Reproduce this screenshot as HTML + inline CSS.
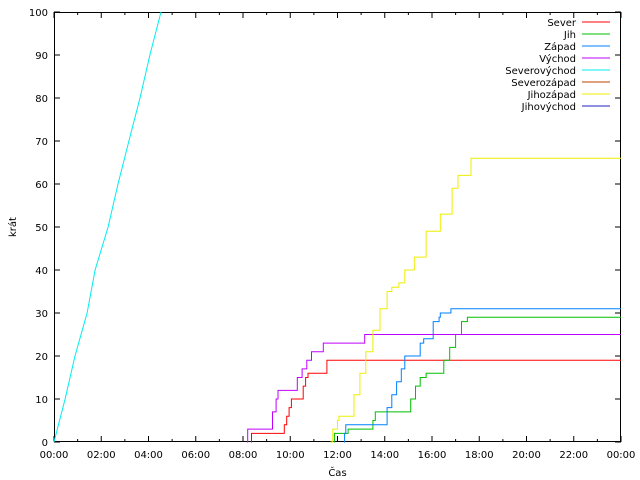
<!DOCTYPE html>
<html><head><meta charset="utf-8"><style>
body{margin:0;background:#fff}
svg{display:block}
text{font-family:"DejaVu Sans","Liberation Sans",sans-serif;font-size:10px;fill:#000}
</style></head><body>
<svg id="c" width="640" height="480"></svg>
<script>
const xTickLabels=["00:00","02:00","04:00","06:00","08:00","10:00","12:00","14:00","16:00","18:00","20:00","22:00","00:00"];
const yTicks=[0,10,20,30,40,50,60,70,80,90,100];
const seriesNames=["Sever","Jih","Západ","Východ","Severovýchod","Severozápad","Jihozápad","Jihovýchod"];
const seriesColors=["#ff0000","#00c000","#0080ff","#c000ff","#00eeee","#c04000","#eeee00","#2020c0"];
// [hour, value] pairs
const sever=[[8.34,0],[8.36,2],[9.6,2],[9.75,4],[9.85,6],[9.95,8],[10.05,10],[10.45,10],[10.55,13],[10.65,15],[10.75,16],[11.45,16],[11.55,19],[24,19]];
const jih=[[11.85,0],[11.87,2],[12.4,2],[12.45,3],[13.4,3],[13.5,5],[13.6,7],[14.95,7],[15.1,10],[15.3,13],[15.5,15],[15.75,16],[16.3,16],[16.5,19],[16.75,22],[17.0,25],[17.25,28],[17.5,29],[24,29]];
const zapad=[[12.27,0],[12.3,2],[12.35,4],[13.9,4],[14.1,8],[14.3,11],[14.5,14],[14.7,17],[14.85,20],[15.4,20],[15.5,23],[15.65,24],[15.9,24],[16.05,28],[16.3,29],[16.35,30],[16.75,30],[16.8,31],[24,31]];
const vychod=[[8.17,0],[8.2,3],[9.1,3],[9.25,7],[9.4,10],[9.48,12],[10.16,12],[10.3,15],[10.5,17],[10.7,19],[10.9,21],[11.35,21],[11.4,23],[13.1,23],[13.15,25],[24,25]];
const severovychod=[[0,0],[0.47,10],[0.89,20],[1.4,30],[1.74,40],[2.29,50],[2.71,60],[3.17,70],[3.64,80],[4.06,90],[4.53,100]];
const jihozapad=[[11.7,0],[11.8,3],[12.0,5],[12.06,6],[12.5,6],[12.7,11],[12.95,16],[13.2,21],[13.5,26],[13.8,31],[14.1,35],[14.3,36],[14.6,37],[14.85,40],[15.25,43],[15.75,49],[16.1,49],[16.35,53],[16.85,59],[17.1,62],[17.65,66],[24,66]];
const seriesData=[sever,jih,zapad,vychod,severovychod,[],jihozapad,[]];
const NS="http://www.w3.org/2000/svg";
const svg=document.getElementById("c");
const L=54,R=621,T=12,B=442;
const X=h=>L+h*(R-L)/24, Y=v=>B-v*(B-T)/100;
function el(tag,attrs,parent){const e=document.createElementNS(NS,tag);for(const k in attrs)e.setAttribute(k,attrs[k]);(parent||svg).appendChild(e);return e;}
// ticks
for(let h=0;h<=24;h++){
  const len=h%2===0?6:3;
  const t1=el("line",{x1:X(h),x2:X(h),y1:B,y2:B-len,stroke:"#000"});
  
  
  const t2=el("line",{x1:X(h),x2:X(h),y1:T,y2:T+len,stroke:"#000"});
  
  
}
xTickLabels.forEach((s,i)=>{
  const t=el("text",{x:X(i*2),y:B+16,"text-anchor":"middle"});t.textContent=s;
  
  
});
yTicks.forEach(v=>{
  const a=el("line",{x1:L,x2:L+6,y1:Y(v),y2:Y(v),stroke:"#000"});
  
  
  const b=el("line",{x1:R,x2:R-6,y1:Y(v),y2:Y(v),stroke:"#000"});
  
  
  const t=el("text",{x:L-6,y:Y(v)+4,"text-anchor":"end"});t.textContent=v;
  
  
});
const frame=el("rect",{x:L+0.5,y:T+0.5,width:R-L-1,height:B-T-1,fill:"none",stroke:"#000"});


const xt=el("text",{x:(L+R)/2,y:476,"text-anchor":"middle"});xt.textContent="Čas";


const yt=el("text",{x:16,y:(T+B)/2,"text-anchor":"middle",transform:"rotate(-90 16 "+((T+B)/2)+")"});yt.textContent="krát";


// series
seriesData.forEach((d,i)=>{
  if(!d.length)return;
  let pts=[];
  const step=i!==4;
  d.forEach((p,j)=>{
    if(step&&j>0)pts.push(X(p[0]).toFixed(1)+","+Y(d[j-1][1]).toFixed(1));
    pts.push(X(p[0]).toFixed(1)+","+Y(p[1]).toFixed(1));
  });
  const pl=el("polyline",{points:pts.join(" "),fill:"none",stroke:seriesColors[i],"stroke-width":1});
  
  
});
// legend
seriesNames.forEach((n,i)=>{
  const y=22+i*12;
  const t=el("text",{x:576,y:y+4,"text-anchor":"end"});t.textContent=n;
  
  
  const l=el("line",{x1:582,x2:610,y1:y,y2:y,stroke:seriesColors[i]});
  
  
});
</script>
</body></html>
